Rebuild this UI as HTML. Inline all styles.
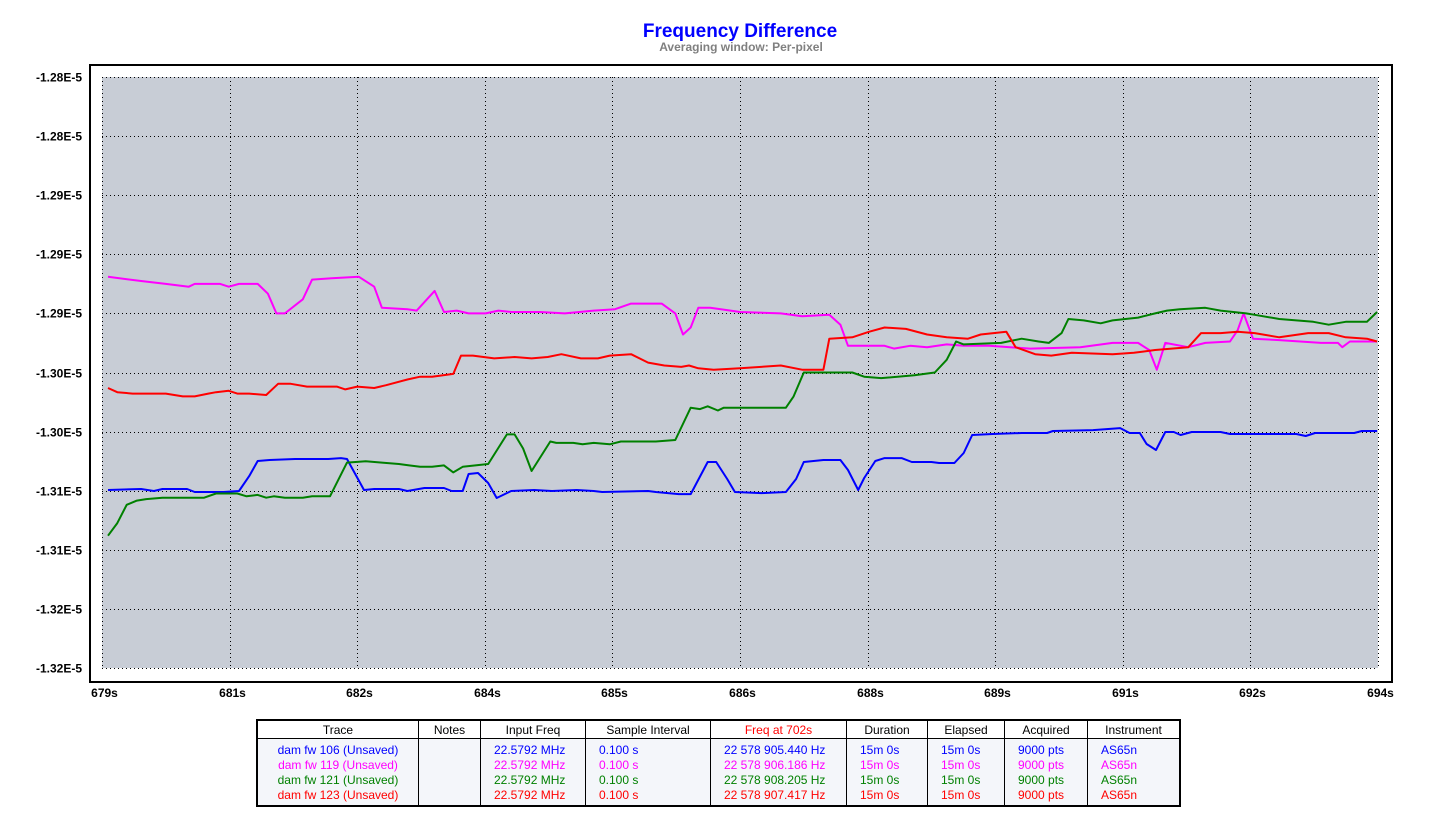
<!DOCTYPE html>
<html><head><meta charset="utf-8"><style>
html,body{margin:0;padding:0;background:#fff;width:1436px;height:837px;overflow:hidden}
svg{position:absolute;left:0;top:0}
.tbl{position:absolute;left:256px;top:719px;width:925px;border:2px solid #000;border-collapse:collapse;font-family:"Liberation Sans",sans-serif;font-size:12px}
.tbl th{font-weight:normal;height:17px;padding:0;border-left:1px solid #000;border-bottom:1px solid #000;text-align:center;background:#fff}
.tbl td{padding:0;height:15px;line-height:14px;border-left:1px solid #000;background:#f4f6fa;text-align:left;padding-left:13px;white-space:nowrap}
.tbl td.c{text-align:center;padding-left:0}
.tbl tr.first td{padding-top:3px}
.tbl tr.last td{padding-bottom:3px}
</style></head><body>
<svg id="chart" width="1436" height="837" xmlns="http://www.w3.org/2000/svg">
<text x="740" y="37" text-anchor="middle" font-family="Liberation Sans, sans-serif" font-weight="bold" font-size="19" fill="#0000ff">Frequency Difference</text>
<text x="741" y="51" text-anchor="middle" font-family="Liberation Sans, sans-serif" font-weight="bold" font-size="12" fill="#808080">Averaging window: Per-pixel</text>
<rect x="90" y="65" width="1302" height="617" fill="#fff" stroke="#000" stroke-width="2"/>
<rect x="102" y="77" width="1276" height="591" fill="#c8cdd6"/>
<g id="grid"></g><g id="ylab"></g><g id="xlab"></g><g id="series"></g>
</svg>
<table class="tbl">
<tr><th style="width:160px;border-left:none">Trace</th><th style="width:61px">Notes</th><th style="width:104px">Input Freq</th><th style="width:124px">Sample Interval</th><th style="width:135px;color:#ff0000">Freq at 702s</th><th style="width:80px">Duration</th><th style="width:76px">Elapsed</th><th style="width:82px">Acquired</th><th>Instrument</th></tr>
<tr class="first" style="color:#0000ff"><td class="c" style="border-left:none">dam fw 106 (Unsaved)</td><td></td><td>22.5792 MHz</td><td>0.100 s</td><td>22 578 905.440 Hz</td><td>15m 0s</td><td>15m 0s</td><td>9000 pts</td><td>AS65n</td></tr>
<tr style="color:#ff00ff"><td class="c" style="border-left:none">dam fw 119 (Unsaved)</td><td></td><td>22.5792 MHz</td><td>0.100 s</td><td>22 578 906.186 Hz</td><td>15m 0s</td><td>15m 0s</td><td>9000 pts</td><td>AS65n</td></tr>
<tr style="color:#008000"><td class="c" style="border-left:none">dam fw 121 (Unsaved)</td><td></td><td>22.5792 MHz</td><td>0.100 s</td><td>22 578 908.205 Hz</td><td>15m 0s</td><td>15m 0s</td><td>9000 pts</td><td>AS65n</td></tr>
<tr class="last" style="color:#ff0000"><td class="c" style="border-left:none">dam fw 123 (Unsaved)</td><td></td><td>22.5792 MHz</td><td>0.100 s</td><td>22 578 907.417 Hz</td><td>15m 0s</td><td>15m 0s</td><td>9000 pts</td><td>AS65n</td></tr>
</table>
<script>
// values in ppb (1E-5 = 10000 ppb), time in seconds
const xTickLabels = ["679s","681s","682s","684s","685s","686s","688s","689s","691s","692s","694s"];
const yTickLabels = ["-1.28E-5","-1.28E-5","-1.29E-5","-1.29E-5","-1.29E-5","-1.30E-5","-1.30E-5","-1.31E-5","-1.31E-5","-1.32E-5","-1.32E-5"];
const xMin = 679, xMax = 694, yMax = -12780, yMin = -13200;
const seriesNames = ["dam fw 106","dam fw 119","dam fw 121","dam fw 123"];
const seriesColors = ["#0000ff","#ff00ff","#008000","#ff0000"];
const blueT = [679.07,679.46,679.61,679.71,680.00,680.09,680.43,680.61,680.73,680.83,680.97,681.27,681.66,681.81,681.88,682.08,682.20,682.49,682.59,682.79,682.88,683.02,683.11,683.24,683.31,683.42,683.54,683.64,683.81,684.08,684.29,684.58,684.78,684.88,685.42,685.51,685.78,685.92,686.12,686.22,686.35,686.44,686.75,687.04,687.16,687.25,687.48,687.68,687.77,687.89,687.96,688.09,688.20,688.40,688.52,688.75,688.84,689.02,689.13,689.23,689.47,689.81,690.11,690.18,690.65,690.97,691.08,691.20,691.28,691.39,691.50,691.60,691.68,691.81,692.15,692.26,693.04,693.15,693.26,693.72,693.81,693.99];
const blueV = [-13073.5,-13072.8,-13074.2,-13072.8,-13072.8,-13074.9,-13074.9,-13074.2,-13063.6,-13052.9,-13052.2,-13051.5,-13051.5,-13050.8,-13051.5,-13073.5,-13072.8,-13072.8,-13074.2,-13072.1,-13072.1,-13072.1,-13074.2,-13074.2,-13062.1,-13061.4,-13068.5,-13079.2,-13074.2,-13073.5,-13074.2,-13073.5,-13074.2,-13074.9,-13074.2,-13074.9,-13076.4,-13076.4,-13053.6,-13053.6,-13065.7,-13074.9,-13075.7,-13074.9,-13065.7,-13053.6,-13052.2,-13052.2,-13059.3,-13073.5,-13065.0,-13052.9,-13050.8,-13050.8,-13053.6,-13053.6,-13054.3,-13054.3,-13047.2,-13034.4,-13033.7,-13033.0,-13033.0,-13031.6,-13030.9,-13029.5,-13033.0,-13033.0,-13040.8,-13045.1,-13032.3,-13032.3,-13034.4,-13032.3,-13032.3,-13033.7,-13033.7,-13035.1,-13033.0,-13033.0,-13031.6,-13031.6];
const magentaT = [679.07,679.46,679.75,680.02,680.09,680.39,680.49,680.61,680.83,680.95,681.05,681.15,681.36,681.47,681.70,682.02,682.20,682.29,682.59,682.70,682.91,683.02,683.17,683.31,683.51,683.66,683.81,684.15,684.44,684.78,685.03,685.22,685.42,685.58,685.74,685.83,685.92,686.01,686.15,686.39,686.50,686.98,687.23,687.55,687.68,687.77,688.20,688.31,688.50,688.70,688.93,689.13,689.43,689.91,690.50,690.88,691.18,691.31,691.40,691.50,691.77,691.97,692.26,692.35,692.42,692.53,692.84,693.33,693.53,693.58,693.67,693.99];
const magentaV = [-12922,-12925,-12927,-12929,-12927,-12927,-12929,-12927,-12927,-12934,-12948,-12948,-12938,-12924,-12923,-12922,-12929,-12944,-12945,-12946,-12932,-12947,-12946,-12948,-12948,-12946,-12947,-12947,-12948,-12946,-12945,-12941,-12941,-12941,-12948,-12963,-12958,-12944,-12944,-12946,-12947,-12948,-12950,-12949,-12956,-12971,-12971,-12973,-12971,-12972,-12970,-12971,-12971,-12973,-12972,-12969,-12969,-12974,-12988,-12969,-12972,-12969,-12968,-12960,-12948,-12966,-12967,-12969,-12969,-12972,-12968,-12968];
const greenT = [679.07,679.18,679.29,679.41,679.52,679.71,680.05,680.20,680.34,680.59,680.70,680.83,680.93,681.02,681.15,681.36,681.47,681.68,681.88,682.10,682.29,682.49,682.61,682.74,682.88,683.02,683.13,683.24,683.54,683.76,683.85,683.95,684.05,684.27,684.34,684.54,684.65,684.78,684.97,685.10,685.51,685.74,685.92,686.03,686.12,686.24,686.31,686.50,686.75,687.04,687.13,687.25,687.62,687.82,687.96,688.16,688.55,688.79,688.93,689.04,689.13,689.57,689.81,690.01,690.13,690.28,690.36,690.54,690.74,690.88,691.18,691.38,691.52,691.67,691.97,692.15,692.45,692.55,692.84,693.24,693.42,693.62,693.87,693.99];
const greenV = [-13106,-13097,-13084,-13081,-13080,-13079,-13079,-13079,-13076,-13076,-13078,-13077,-13079,-13078,-13079,-13079,-13078,-13078,-13054,-13053,-13054,-13055,-13056,-13057,-13057,-13056,-13061,-13057,-13055,-13034,-13034,-13044,-13060,-13039,-13040,-13040,-13041,-13040,-13041,-13039,-13039,-13038,-13015,-13016,-13014,-13017,-13015,-13015,-13015,-13015,-13007,-12990,-12990,-12990,-12993,-12994,-12992,-12990,-12981,-12968,-12970,-12969,-12966,-12968,-12969,-12962,-12952,-12953,-12955,-12953,-12951,-12948,-12946,-12945,-12944,-12946,-12948,-12949,-12952,-12954,-12956,-12954,-12954,-12947];
const redT = [679.07,679.18,679.36,679.75,679.95,680.09,680.25,680.34,680.49,680.59,680.73,680.93,681.07,681.22,681.41,681.76,681.86,682.00,682.20,682.34,682.59,682.74,682.88,683.13,683.22,683.36,683.61,683.85,684.05,684.24,684.40,684.63,684.83,684.97,685.22,685.42,685.61,685.81,685.90,686.01,686.19,686.50,686.98,687.23,687.48,687.55,687.82,688.02,688.20,688.45,688.70,688.93,689.18,689.33,689.63,689.74,689.97,690.16,690.40,690.88,691.13,691.38,691.77,691.92,692.15,692.35,692.55,692.84,693.18,693.42,693.62,693.87,693.99];
const redV = [-13001,-13004,-13005,-13005,-13007,-13007,-13005,-13004,-13003,-13005,-13005,-13006,-12998,-12998,-13000,-13000,-13002,-13000,-13001,-12999,-12995,-12993,-12993,-12991,-12978,-12978,-12980,-12979,-12980,-12979,-12977,-12980,-12980,-12978,-12977,-12983,-12985,-12986,-12985,-12987,-12988,-12987,-12985,-12988,-12988,-12966,-12965,-12961,-12958,-12959,-12963,-12965,-12966,-12963,-12961,-12972,-12977,-12978,-12976,-12977,-12976,-12974,-12972,-12962,-12962,-12961,-12962,-12965,-12962,-12962,-12965,-12966,-12968];

const PL=102, PR=1378, PT=77, PB=668;
const NS="http://www.w3.org/2000/svg";
function sx(t){return PL+(t-xMin)/(xMax-xMin)*(PR-PL);}
function sy(v){return PT+(yMax-v)/(yMax-yMin)*(PB-PT);}
function mk(tag,attrs,parent){const e=document.createElementNS(NS,tag);for(const k in attrs)e.setAttribute(k,attrs[k]);parent.appendChild(e);return e;}
const grid=document.getElementById('grid'), ylab=document.getElementById('ylab'), xlab=document.getElementById('xlab'), ser=document.getElementById('series');
yTickLabels.forEach((lab,i)=>{
  const v=yMax-i*(yMax-yMin)/(yTickLabels.length-1);
  const y=Math.round(sy(v))+0.5;
  const l=mk('line',{x1:PL,x2:PR,y1:y,y2:y,stroke:'#000','stroke-width':1,'stroke-dasharray':'1,3'},grid);
  
  
  const t=mk('text',{x:82,y:y+4,'text-anchor':'end','font-family':'Liberation Sans, sans-serif','font-weight':'bold','font-size':12,fill:'#000'},ylab);
  t.textContent=lab;
  
  
});
xTickLabels.forEach((lab,i)=>{
  const tv=xMin+i*(xMax-xMin)/(xTickLabels.length-1);
  const x=Math.round(sx(tv))+0.5;
  const l=mk('line',{x1:x,x2:x,y1:PT,y2:PB,stroke:'#000','stroke-width':1,'stroke-dasharray':'1,3'},grid);
  
  
  const t=mk('text',{x:x+2,y:697,'text-anchor':'middle','font-family':'Liberation Sans, sans-serif','font-weight':'bold','font-size':12,fill:'#000'},xlab);
  t.textContent=lab;
  
  
});
const allT=[blueT,magentaT,greenT,redT], allV=[blueV,magentaV,greenV,redV];
allT.forEach((T,si)=>{
  const pts=T.map((t,j)=>sx(t).toFixed(1)+','+sy(allV[si][j]).toFixed(1)).join(' ');
  const p=mk('polyline',{points:pts,fill:'none',stroke:seriesColors[si],'stroke-width':2,'stroke-linejoin':'round'},ser);
  
  
});
</script>
</body></html>
